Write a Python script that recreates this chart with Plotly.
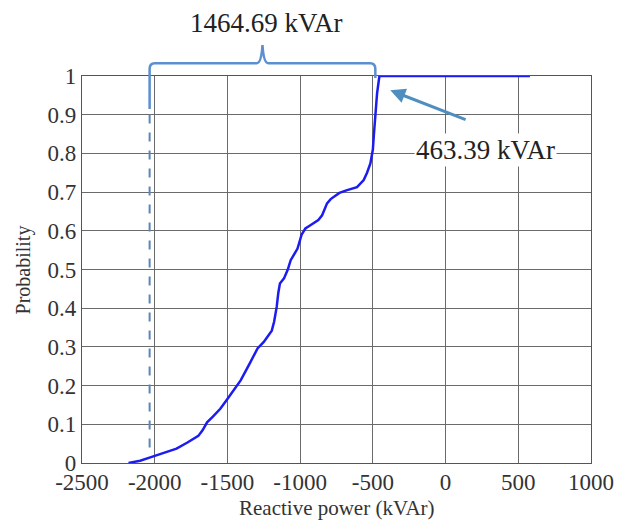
import plotly.graph_objects as go

# Empirical CDF of reactive power (kVAr)
power_kvar = [-2180, -2100, -2010, -1925, -1850, -1775, -1700, -1670, -1640,
              -1600, -1549, -1505, -1473, -1408, -1350, -1293, -1250, -1225,
              -1195, -1179, -1161, -1150, -1139, -1111, -1085, -1065, -1040,
              -1018, -990, -964, -935, -907, -875, -849, -815, -790, -770,
              -730, -677, -609, -563, -540, -517, -500, -494, -483, -471,
              -455, 580]
probability = [0.0, 0.006, 0.017, 0.028, 0.037, 0.053, 0.070, 0.085, 0.105,
               0.120, 0.140, 0.163, 0.179, 0.214, 0.255, 0.296, 0.313, 0.326,
               0.342, 0.365, 0.404, 0.440, 0.464, 0.477, 0.500, 0.524, 0.540,
               0.554, 0.590, 0.606, 0.613, 0.619, 0.628, 0.640, 0.671, 0.682,
               0.688, 0.698, 0.705, 0.713, 0.731, 0.750, 0.774, 0.810, 0.843,
               0.894, 0.955, 1.0, 1.0]

x_tick_vals = [-2500, -2000, -1500, -1000, -500, 0, 500, 1000]
x_tick_text = ["-2500", "-2000", "-1500", "-1000", "-500", "0", "500", "1000"]
y_tick_vals = [0, 0.1, 0.2, 0.3, 0.4, 0.5, 0.6, 0.7, 0.8, 0.9, 1]
y_tick_text = ["0", "0.1", "0.2", "0.3", "0.4", "0.5", "0.6", "0.7", "0.8", "0.9", "1"]

# Spread markers
left_edge = -2035      # dashed marker at the low end of the range
right_edge = -483      # where the CDF reaches 1
span_label = "1464.69 kVAr"
step_label = "463.39 kVAr"

SERIF = "Liberation Serif, Times New Roman, serif"
BRACE = "#5b8fcf"

fig = go.Figure()
fig.add_trace(go.Scatter(
    x=power_kvar, y=probability, mode="lines",
    line=dict(color="#1c1cf0", width=2.5),
    showlegend=False,
))

# dashed vertical marker
fig.add_shape(type="line", xref="x", yref="y",
              x0=left_edge, x1=left_edge, y0=0.04, y1=0.917,
              line=dict(color="#5a86b5", width=2, dash="dash"))

# curly brace above the plot (x in data units, y in paper units)
mid = (left_edge + right_edge) / 2
yb = 1.033
path = (f"M {left_edge},0.915 L {left_edge},1.018 "
        f"Q {left_edge},{yb} {left_edge + 35},{yb} "
        f"L {mid - 40},{yb} Q {mid - 8},{yb} {mid},1.08 "
        f"Q {mid + 8},{yb} {mid + 40},{yb} "
        f"L {right_edge - 35},{yb} Q {right_edge},{yb} {right_edge},1.018 "
        f"L {right_edge},0.995")
fig.add_shape(type="path", xref="x", yref="paper", path=path,
              line=dict(color=BRACE, width=2.5), layer="above")

fig.add_annotation(x=mid + 30, y=1.137, xref="x", yref="paper",
                   text=span_label, showarrow=False, yanchor="middle",
                   font=dict(family=SERIF, size=27, color="#222"))

# arrow pointing at the step to 1
fig.add_annotation(x=-380, y=0.963, ax=148, ay=0.886,
                   xref="x", yref="y", axref="x", ayref="y",
                   text="", showarrow=True, arrowhead=2, arrowsize=1,
                   arrowwidth=3, arrowcolor="#4f8fc0")
fig.add_annotation(x=274, y=0.808, xref="x", yref="y",
                   text=step_label, showarrow=False, bgcolor="white",
                   font=dict(family=SERIF, size=27, color="#222"))

# axis titles
fig.add_annotation(x=0.5, y=-0.116, xref="paper", yref="paper",
                   text="Reactive power (kVAr)", showarrow=False,
                   yanchor="middle",
                   font=dict(family=SERIF, size=21, color="#333"))
fig.add_annotation(x=-0.114, y=0.5, xref="paper", yref="paper",
                   text="Probability", showarrow=False, textangle=-90,
                   xanchor="center", yanchor="middle",
                   font=dict(family=SERIF, size=20, color="#333"))

axis_common = dict(showgrid=True, gridcolor="#6a6a6a", gridwidth=1,
                   showline=True, linecolor="#555", linewidth=1.2,
                   mirror=True, ticks="", zeroline=False,
                   tickfont=dict(family=SERIF, size=23, color="#333"))
fig.update_xaxes(range=[-2500, 1000], tickvals=x_tick_vals,
                 ticktext=x_tick_text, ticklabelstandoff=-2, **axis_common)
fig.update_yaxes(range=[0, 1], tickvals=y_tick_vals,
                 ticktext=y_tick_text, **axis_common)

fig.update_layout(
    width=635, height=525,
    margin=dict(l=82, r=44, t=76, b=62),
    plot_bgcolor="white", paper_bgcolor="white",
    showlegend=False,
)

fig.write_html("out.html")
